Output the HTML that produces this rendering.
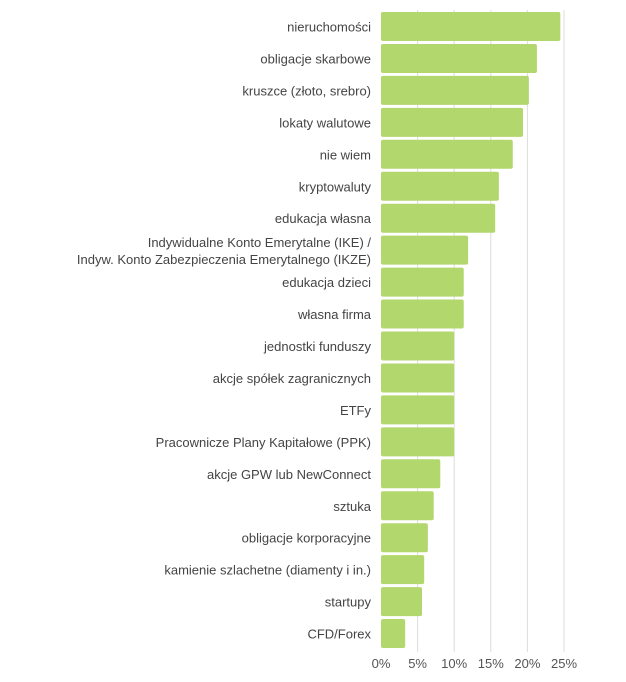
<!DOCTYPE html>
<html><head><meta charset="utf-8"><style>
body{margin:0;background:#fff;width:626px;height:677px;overflow:hidden;font-family:"Liberation Sans",sans-serif}
</style></head><body>
<svg id="c" width="626" height="677"></svg>
<script>
const categories=["nieruchomości","obligacje skarbowe","kruszce (złoto, srebro)","lokaty walutowe","nie wiem","kryptowaluty","edukacja własna","Indywidualne Konto Emerytalne (IKE) /|Indyw. Konto Zabezpieczenia Emerytalnego (IKZE)","edukacja dzieci","własna firma","jednostki funduszy","akcje spółek zagranicznych","ETFy","Pracownicze Plany Kapitałowe (PPK)","akcje GPW lub NewConnect","sztuka","obligacje korporacyjne","kamienie szlachetne (diamenty i in.)","startupy","CFD/Forex"];
const values=[24.5,21.3,20.2,19.4,18.0,16.1,15.6,11.9,11.3,11.3,10,10,10,10,8.1,7.2,6.4,5.9,5.6,3.3];
const ticks=[0,5,10,15,20,25];
const tickLabels=["0%","5%","10%","15%","20%","25%"];
const NS="http://www.w3.org/2000/svg";
const svg=document.getElementById('c');
const x=v=>381+v*7.32;
const yTop=12,pitch=31.95,bh=29;
const y=i=>yTop+i*pitch;
function mk(t,a){const e=document.createElementNS(NS,t);for(const k in a)e.setAttribute(k,a[k]);svg.appendChild(e);return e;}
ticks.forEach((t,i)=>{
 if(i>0){const l=mk('line',{x1:x(t),x2:x(t),y1:10,y2:652,stroke:'#dcdcdc','stroke-width':1});
 
 }
 const tx=mk('text',{x:x(t),y:668,'text-anchor':'middle','font-size':13,fill:'#555'});
 tx.textContent=tickLabels[i];
 
 
});
categories.forEach((c,i)=>{
 const r=mk('rect',{x:x(0),y:y(i),width:x(values[i])-x(0),height:bh,rx:2,fill:'#b1d76d'});
 
 
 const parts=c.split('|');
 parts.forEach((p,j)=>{
  const cy=y(i)+bh/2+5+(parts.length>1?(j===0?-8:9):0);
  const t=mk('text',{x:371,y:cy,'text-anchor':'end','font-size':13,fill:'#444'});
  t.textContent=p;
  
  
 });
});
</script>
</body></html>
